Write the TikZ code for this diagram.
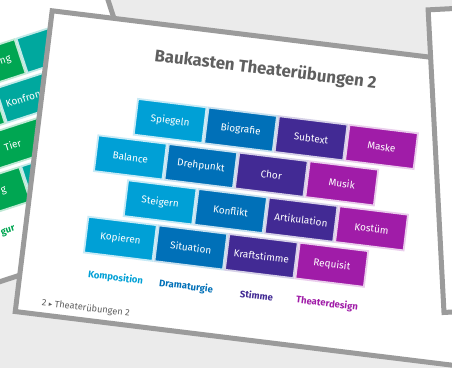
\documentclass[tikz,border=0pt]{standalone}
\usepackage{fontspec}
\setmainfont{Fira Sans}
\newfontfamily\symfont{DejaVu Sans}
\usetikzlibrary{positioning}

\definecolor{komp}{RGB}{0,160,214}
\definecolor{dram}{RGB}{0,112,184}
\definecolor{stim}{RGB}{66,42,148}
\definecolor{design}{RGB}{160,28,168}
\definecolor{gruen}{RGB}{0,166,82}
\definecolor{tuerkis}{RGB}{0,168,158}
\definecolor{rahmen}{RGB}{155,155,155}
\definecolor{hinter}{RGB}{235,235,235}
\definecolor{titel}{RGB}{95,95,95}

\begin{document}
\begin{tikzpicture}[x=1pt,y=-1pt]
  \def\sw{548}
  \def\sh{308}

\tikzstyle{slide}=[fill=white,draw=rahmen,line width=5pt]
\tikzstyle{brick}=[rectangle,minimum width=69pt,minimum height=36pt,inner sep=0pt,line width=1.8pt,text=white,font=\fontsize{10}{12}\selectfont]
\tikzstyle{word}=[inner sep=0pt,text=white,font=\fontsize{10}{12}\selectfont]
\tikzstyle{cat}=[inner sep=0pt,font=\bfseries\fontsize{9.5}{11}\selectfont]

\useasboundingbox (0,0) rectangle (452,368);
\clip (0,0) rectangle (452,368);
\fill[hinter] (0,0) rectangle (452,368);

% slide on the left, mostly hidden
\begin{scope}[shift={(-169.3,15.4)},rotate=18,transform shape]
\draw[slide] (2.5,2.5) rectangle (268.5,\sh-2.5);
\node[brick,fill=gruen,draw=gruen!25] (l11) at (133,97.5) {};
\node[brick,fill=tuerkis,draw=tuerkis!25] (l12) at (204,97.5) {};
\node[brick,fill=gruen,draw=gruen!25] (l21) at (98,138.5) {};
\node[brick,fill=tuerkis,draw=tuerkis!25] (l22) at (169,138.5) {};
\node[brick,fill=gruen,draw=gruen!25] (l31) at (133,179.5) {Tier};
\node[brick,fill=gruen,draw=gruen!25] (l41) at (98,220.5) {};
\node[brick,fill=tuerkis,draw=tuerkis!25] (l42) at (169,220.5) {};
\node[word,anchor=east] (lng) at (158,97.5) {ng};
\node[word,anchor=west] (lkon) at (139,138.5) {Konfron};
\node[word,anchor=east] (lg) at (113,220.5) {g};
\node[cat,text=gruen] (lgur) at (102,260) {gur};
\end{scope}

% main slide
\begin{scope}[shift={(50,8)},rotate=-7,transform shape]
\draw[slide] (2.5,2.5) rectangle (\sw-2.5,\sh-2.5);
\node[font=\bfseries\fontsize{16.8}{20}\selectfont,text=titel] (titel) at (221.5,35.2) {Baukasten Theaterübungen 2};

\node[brick,fill=komp,draw=komp!22] (spiegeln) at (133,97.5) {Spiegeln};
\node[brick,fill=dram,draw=dram!22] (biografie) at (204,97.5) {Biografie};
\node[brick,fill=stim,draw=stim!22] (subtext) at (275,97.5) {Subtext};
\node[brick,fill=design,draw=design!22] (maske) at (346,97.5) {Maske};

\node[brick,fill=komp,draw=komp!22] (balance) at (98,138.5) {Balance};
\node[brick,fill=dram,draw=dram!22] (drehpunkt) at (169,138.5) {Drehpunkt};
\node[brick,fill=stim,draw=stim!22] (chor) at (240,138.5) {Chor};
\node[brick,fill=design,draw=design!22] (musik) at (311,138.5) {Musik};

\node[brick,fill=komp,draw=komp!22] (steigern) at (133,179.5) {Steigern};
\node[brick,fill=dram,draw=dram!22] (konflikt) at (204,179.5) {Konflikt};
\node[brick,fill=stim,draw=stim!22] (artikulation) at (275,179.5) {Artikulation};
\node[brick,fill=design,draw=design!22] (kostuem) at (346,179.5) {Kostüm};

\node[brick,fill=komp,draw=komp!22] (kopieren) at (98,220.5) {Kopieren};
\node[brick,fill=dram,draw=dram!22] (situation) at (169,220.5) {Situation};
\node[brick,fill=stim,draw=stim!22] (kraftstimme) at (240,220.5) {Kraftstimme};
\node[brick,fill=design,draw=design!22] (requisit) at (311,220.5) {Requisit};

\node[cat,text=komp] (komposition) at (98,260) {Komposition};
\node[cat,text=dram] (dramaturgie) at (169,260) {Dramaturgie};
\node[cat,text=stim] (stimme) at (240,260) {Stimme};
\node[cat,text=design] (theaterdesign) at (311,260) {Theaterdesign};

\node[anchor=west,inner sep=0pt,text=titel,font=\fontsize{9.2}{11}\selectfont] (fuss) at (27.7,293.8) {2 {\fontsize{7}{8}\symfont ▸} Theaterübungen 2};
\end{scope}

% slide on the right
\begin{scope}[shift={(425.5,7.5)},rotate=3]
\draw[slide] (2.5,2.5) rectangle (408.5,\sh-2.5);
\end{scope}
\end{tikzpicture}
\end{document}
